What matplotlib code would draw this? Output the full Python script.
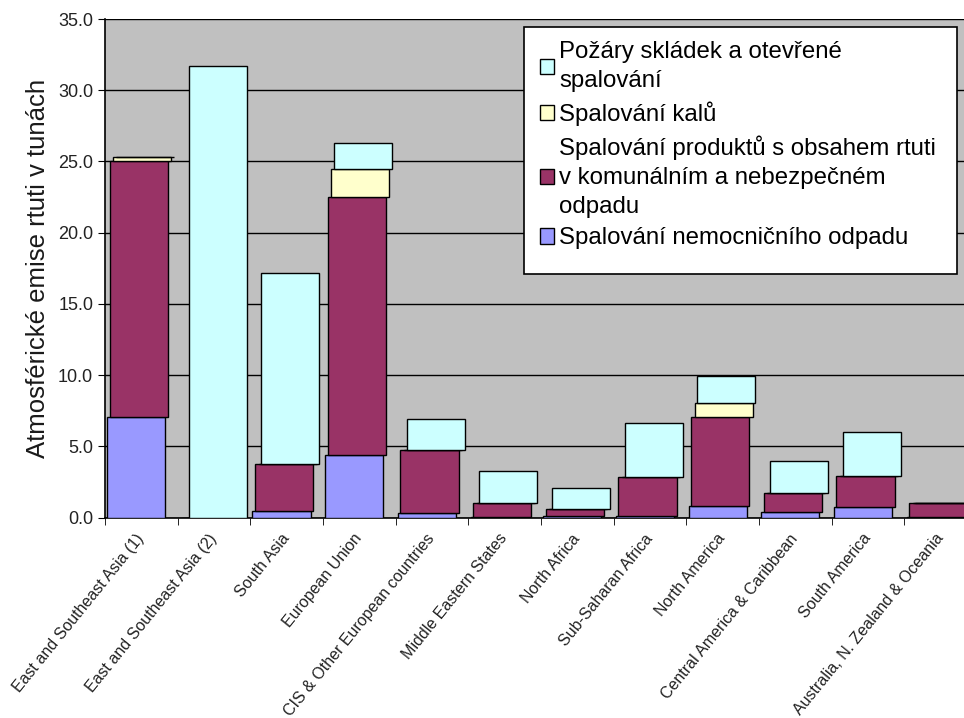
import numpy as np
import matplotlib
matplotlib.use('Agg')
from matplotlib import pyplot as plt
from matplotlib.patches import Rectangle

plt.rcParams['font.family'] = ['Liberation Sans', 'DejaVu Sans']

regions = ['East and Southeast Asia (1)', 'East and Southeast Asia (2)', 'South Asia',
           'European Union', 'CIS & Other European countries', 'Middle Eastern States',
           'North Africa', 'Sub-Saharan Africa', 'North America',
           'Central America & Caribbean', 'South America', 'Australia, N. Zealand & Oceania']

# tuny rtuti
hospital = [7.1, 0.0, 0.5, 4.4, 0.35, 0.05, 0.1, 0.15, 0.85, 0.4, 0.75, 0.05]
products = [17.9, 0.0, 3.3, 18.1, 4.4, 1.0, 0.5, 2.7, 6.2, 1.3, 2.2, 0.95]
sludge   = [0.3, 0.0, 0.0, 2.0, 0.0, 0.0, 0.0, 0.0, 1.0, 0.0, 0.0, 0.0]
open_burning = [0.0, 31.7, 13.4, 1.8, 2.2, 2.2, 1.5, 3.8, 1.9, 2.3, 3.05, 0.0]

labels = ['Spalování nemocničního odpadu',
          'Spalování produktů s obsahem rtuti\nv komunálním a nebezpečném\nodpadu',
          'Spalování kalů',
          'Požáry skládek a otevřené\nspalování']
colors = ['#9999FF', '#993366', '#FFFFCC', '#CCFFFF']
offsets = [-0.07, -0.035, 0.015, 0.05]   # pseudo 3D posun jako v Excelu
yticks = np.arange(0, 35.1, 5)

fig = plt.figure(figsize=(9.64, 7.18), dpi=100)
ax = fig.add_axes([0.1089, 0.279, 0.9046, 0.6945])
ax.set_facecolor('#C0C0C0')

x = np.arange(len(regions))
width = 0.8
bottom = np.zeros(len(regions))
handles = []
for vals, lab, col, off in zip([hospital, products, sludge, open_burning], labels, colors, offsets):
    vals = np.array(vals)
    b = ax.bar(x + off, vals, width, bottom=bottom, color=col, edgecolor='black',
               linewidth=1.0, label=lab, zorder=3)
    handles.append(b)
    bottom = bottom + vals

ax.set_xlim(-0.5, len(regions) - 0.5)
ax.set_ylim(0, 35)
ax.set_yticks(yticks)
ax.set_yticklabels(['%.1f' % v for v in yticks], fontsize=13, color='#222222')
ax.yaxis.grid(True, color='black', linewidth=1.0, zorder=0)
ax.set_axisbelow(True)

ax.set_xticks(x)
ax.set_xticklabels(regions, rotation=51, ha='right', va='center', rotation_mode='anchor',
                   fontsize=11.5, color='#222222')
ax.tick_params(axis='x', length=0, pad=13)
ax.set_xticks(np.arange(len(regions) + 1) - 0.5, minor=True)
ax.tick_params(axis='x', which='minor', length=5, color='black')
ax.tick_params(axis='y', length=5, color='black')

for s in ['top', 'right']:
    ax.spines[s].set_visible(False)
for s in ['left', 'bottom']:
    ax.spines[s].set_color('black')
    ax.spines[s].set_linewidth(1.2)

ax.set_ylabel('Atmosférické emise rtuti v tunách', fontsize=18.5, color='#1a1a1a', labelpad=6)

# ramecek legendy
frame = Rectangle((524 / 964, 1 - 274 / 718), (957 - 524) / 964, (274 - 27) / 718,
                  transform=fig.transFigure, facecolor='white', edgecolor='black',
                  linewidth=1.2, zorder=4)
fig.patches.append(frame)

leg = fig.legend(handles[::-1], labels[::-1], loc='upper left',
                 bbox_to_anchor=(540 / 964, 1 - 41 / 718), fontsize=17.3,
                 frameon=False, handlelength=0.6, handleheight=0.6, handletextpad=0.2,
                 labelspacing=0.4, borderpad=0, borderaxespad=0)
for t in leg.get_texts():
    t.set_linespacing(1.4)
leg.set_zorder(5)

fig.savefig('out.png', dpi=100)
